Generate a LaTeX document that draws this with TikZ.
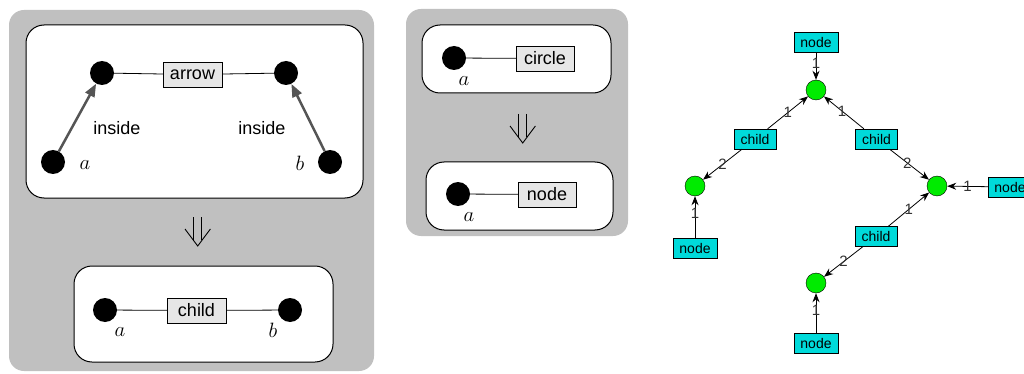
\documentclass[tikz,border=0pt]{standalone}
\usepackage{fontspec}
\setmainfont{Liberation Sans}
\usetikzlibrary{arrows.meta}

\definecolor{panelgray}{RGB}{192,192,192}
\definecolor{tagfill}{RGB}{230,230,230}
\definecolor{gnodefill}{RGB}{0,218,218}
\definecolor{gdotfill}{RGB}{0,235,0}
\definecolor{insidegray}{RGB}{85,85,85}

\tikzset{
  panel/.style={fill=panelgray, rounded corners=15pt},
  sideframe/.style={draw=black, fill=white, rounded corners=18pt, line width=1pt},
  blackdot/.style={circle, fill=black, minimum size=24pt, inner sep=0pt},
  tag/.style={draw=black, fill=tagfill, minimum width=58pt, minimum height=25pt,
    inner sep=0pt, font=\fontsize{18}{20}\selectfont},
  plain/.style={font=\fontsize{18}{20}\selectfont, inner sep=0pt},
  varname/.style={font=\fontsize{22}{24}\selectfont, inner sep=0pt},
  insidearrow/.style={draw=insidegray, line width=2.5pt,
    -{Triangle[length=13pt,width=10pt]}},
  conn/.style={draw=black, line width=0.8pt},
  gnode/.style={draw=black, fill=gnodefill, minimum width=44pt, minimum height=20pt,
    inner sep=0pt, font=\fontsize{14}{16}\selectfont},
  gchild/.style={gnode, minimum width=42pt},
  gdot/.style={circle, draw=black, fill=gdotfill, minimum size=20pt, inner sep=0pt},
  gedge/.style={draw=black, line width=0.8pt, -{Stealth[length=9pt,width=7pt]}},
  elabel/.style={font=\fontsize{15}{16}\selectfont, inner sep=0pt, text=black!80, pos=0.5},
  % double-shafted "rewrites to" arrow, drawn from the top of its shafts
  rewrites/.pic={
    \draw[line width=0.9pt, line cap=butt]
      (-4.2,0) -- (-4.2,23) (4.2,0) -- (4.2,23);
    \draw[line width=0.9pt, line join=miter] (-12.7,12) -- (0,29) -- (12.7,12);
  }
}

\begin{document}
\begin{tikzpicture}[x=1pt,y=-1pt]
\useasboundingbox (0,0) rectangle (1024,374);

% ---------- rule: arrow -> child ----------
\fill[panel] (9,10) rectangle (374,371);
\draw[sideframe] (26,25) rectangle (363,198);
\node[blackdot] (p1) at (102,73) {};
\node[blackdot] (p2) at (286,73) {};
\node[blackdot] (pa) at (53,162) {};
\node[blackdot] (pb) at (330,162) {};
\node[tag, minimum width=59pt] (arrowtag) at (192.5,74.5) {arrow};
\draw[conn] (p1) -- (arrowtag);
\draw[conn] (arrowtag) -- (p2);
\draw[insidearrow] (pa) -- (p1);
\draw[insidearrow] (pb) -- (p2);
\node[plain] (ins1) at (117,128) {inside};
\node[plain] (ins2) at (262,128) {inside};
\node[varname] (la) at (85,165.5) {$a$};
\node[varname] (lb) at (300,163.5) {$b$};

\pic (imp1) at (197.7,217) {rewrites};

\draw[sideframe] (74,266) rectangle (333,362);
\node[blackdot] (q1) at (105,310) {};
\node[blackdot] (q2) at (290,310) {};
\node[tag, minimum width=59pt] (childtag) at (196.5,310.5) {child};
\draw[conn] (q1) -- (childtag);
\draw[conn] (childtag) -- (q2);
\node[varname] (qa) at (120,332) {$a$};
\node[varname] (qb) at (273,330) {$b$};

% ---------- rule: circle -> node ----------
\fill[panel] (406,9) rectangle (628,236);
\draw[sideframe] (422,25) rectangle (611,93);
\node[blackdot] (r1) at (454,58) {};
\node[tag] (circletag) at (545,58.5) {circle};
\draw[conn] (r1) -- (circletag);
\node[varname] (ra) at (464,81.5) {$a$};

\pic (imp2) at (522.7,114) {rewrites};

\draw[sideframe] (426,162) rectangle (613,230);
\node[blackdot] (s1) at (458,194) {};
\node[tag] (nodetag) at (547,194.5) {node};
\draw[conn] (s1) -- (nodetag);
\node[varname] (sa) at (469,217) {$a$};

% ---------- resulting graph ----------
\node[gnode] (n1) at (816,42.5) {node};
\node[gdot] (g1) at (816,90) {};
\node[gchild] (c1) at (755,139) {child};
\node[gchild] (c2) at (876.5,139) {child};
\node[gdot] (g2) at (695,186) {};
\node[gdot] (g3) at (937,186) {};
\node[gnode] (n2) at (695,248) {node};
\node[gnode] (n3) at (1010,187) {node};
\node[gchild] (c3) at (876,236.5) {child};
\node[gdot] (g4) at (816,283) {};
\node[gnode] (n4) at (816,343.5) {node};

\draw[gedge] (n1) -- node[elabel, pos=0.4] {1} (g1);
\draw[gedge] (c1) -- node[elabel, pos=0.5] {1} (g1);
\draw[gedge] (c2) -- node[elabel, pos=0.55] {1} (g1);
\draw[gedge] (c1) -- node[elabel, pos=0.5] {2} (g2);
\draw[gedge] (c2) -- node[elabel, pos=0.45] {2} (g3);
\draw[gedge] (n3) -- node[elabel, pos=0.5] {1} (g3);
\draw[gedge] (c3) -- node[elabel, pos=0.5] {1} (g3);
\draw[gedge] (c3) -- node[elabel, pos=0.5] {2} (g4);
\draw[gedge] (n2) -- node[elabel, pos=0.6] {1} (g2);
\draw[gedge] (n4) -- node[elabel, pos=0.57] {1} (g4);
\end{tikzpicture}
\end{document}
